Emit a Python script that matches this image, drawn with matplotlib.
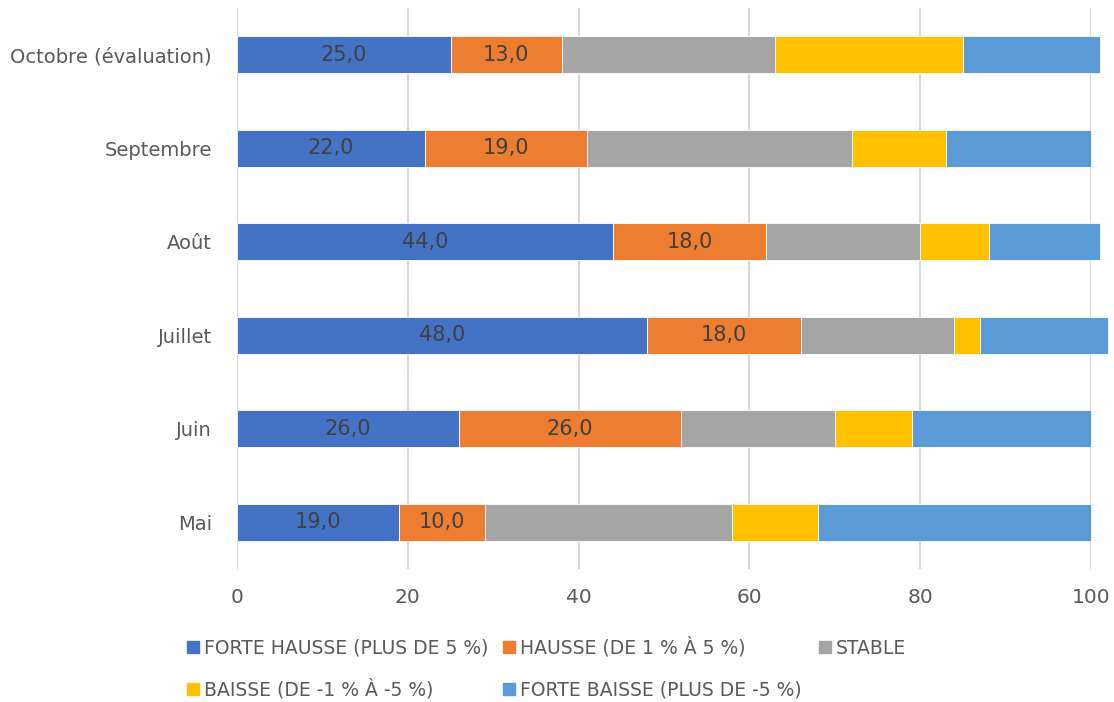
import matplotlib
matplotlib.use("Agg")
import matplotlib.pyplot as plt
from matplotlib.patches import Rectangle

# Mois (de bas en haut)
mois = ["Mai", "Juin", "Juillet", "Août", "Septembre", "Octobre (évaluation)"]

forte_hausse = [19, 26, 48, 44, 22, 25]
hausse = [10, 26, 18, 18, 19, 13]
stable = [29, 18, 18, 18, 31, 25]
baisse = [10, 9, 3, 8, 11, 22]
forte_baisse = [32, 21, 15, 13, 17, 16]

series_labels = [
    "FORTE HAUSSE (PLUS DE 5 %)",
    "HAUSSE (DE 1 % À 5 %)",
    "STABLE",
    "BAISSE (DE -1 % À -5 %)",
    "FORTE BAISSE (PLUS DE -5 %)",
]
series_values = [forte_hausse, hausse, stable, baisse, forte_baisse]
series_colors = ["#4472C4", "#ED7D31", "#A5A5A5", "#FFC000", "#5B9BD5"]
labelled_series = {0, 1}

x_ticks = [0, 20, 40, 60, 80, 100]

FONT = "DejaVu Sans"
TEXT_COLOR = "#595959"
W, H = 1114, 702

fig = plt.figure(figsize=(W / 100, H / 100), dpi=100)
ax = fig.add_axes([237 / W, 1 - 569 / H, (1091 - 237) / W, (569 - 8) / H])

ypos = list(range(len(mois)))
left = [0] * len(mois)
for i, (vals, col, lab) in enumerate(zip(series_values, series_colors, series_labels)):
    bars = ax.barh(ypos, vals, left=left, height=0.4, color=col, label=lab,
                   edgecolor="white", linewidth=0.6, zorder=3, clip_on=False)
    if i in labelled_series:
        for b, v in zip(bars, vals):
            ax.text(b.get_x() + b.get_width() / 2, b.get_y() + b.get_height() / 2,
                    f"{v:.1f}".replace(".", ","), ha="center", va="center",
                    fontsize=15, color="#404040", family=FONT, zorder=4)
    left = [l + v for l, v in zip(left, vals)]

ax.set_xlim(0, 100)
ax.set_ylim(-0.5, len(mois) - 0.5)
ax.set_xticks(x_ticks)
ax.set_xticklabels([str(t) for t in x_ticks], fontsize=14.5, color=TEXT_COLOR, family=FONT)
ax.set_yticks(ypos)
ax.set_yticklabels(mois, fontsize=14, color=TEXT_COLOR, family=FONT)
ax.tick_params(axis="both", length=0)
ax.tick_params(axis="x", pad=14)
ax.tick_params(axis="y", pad=18)
for s in ax.spines.values():
    s.set_visible(False)
ax.grid(axis="x", color="#D9D9D9", linewidth=1.5, zorder=0)
ax.set_axisbelow(True)

# Légende en deux rangées : (bord gauche du carré, centre vertical) en pixels
legend_pos = [(187, 647), (503, 647), (819, 647), (187, 689), (503, 689)]
for (px, py), col, lab in zip(legend_pos, series_colors, series_labels):
    fig.patches.append(Rectangle((px / W, 1 - (py + 6) / H), 12 / W, 12 / H,
                                 transform=fig.transFigure, color=col))
    fig.text((px + 17) / W, 1 - (py + 7) / H, lab, fontsize=13.5, color=TEXT_COLOR,
             family=FONT, va="baseline", ha="left")

fig.savefig("out.png", dpi=100)
